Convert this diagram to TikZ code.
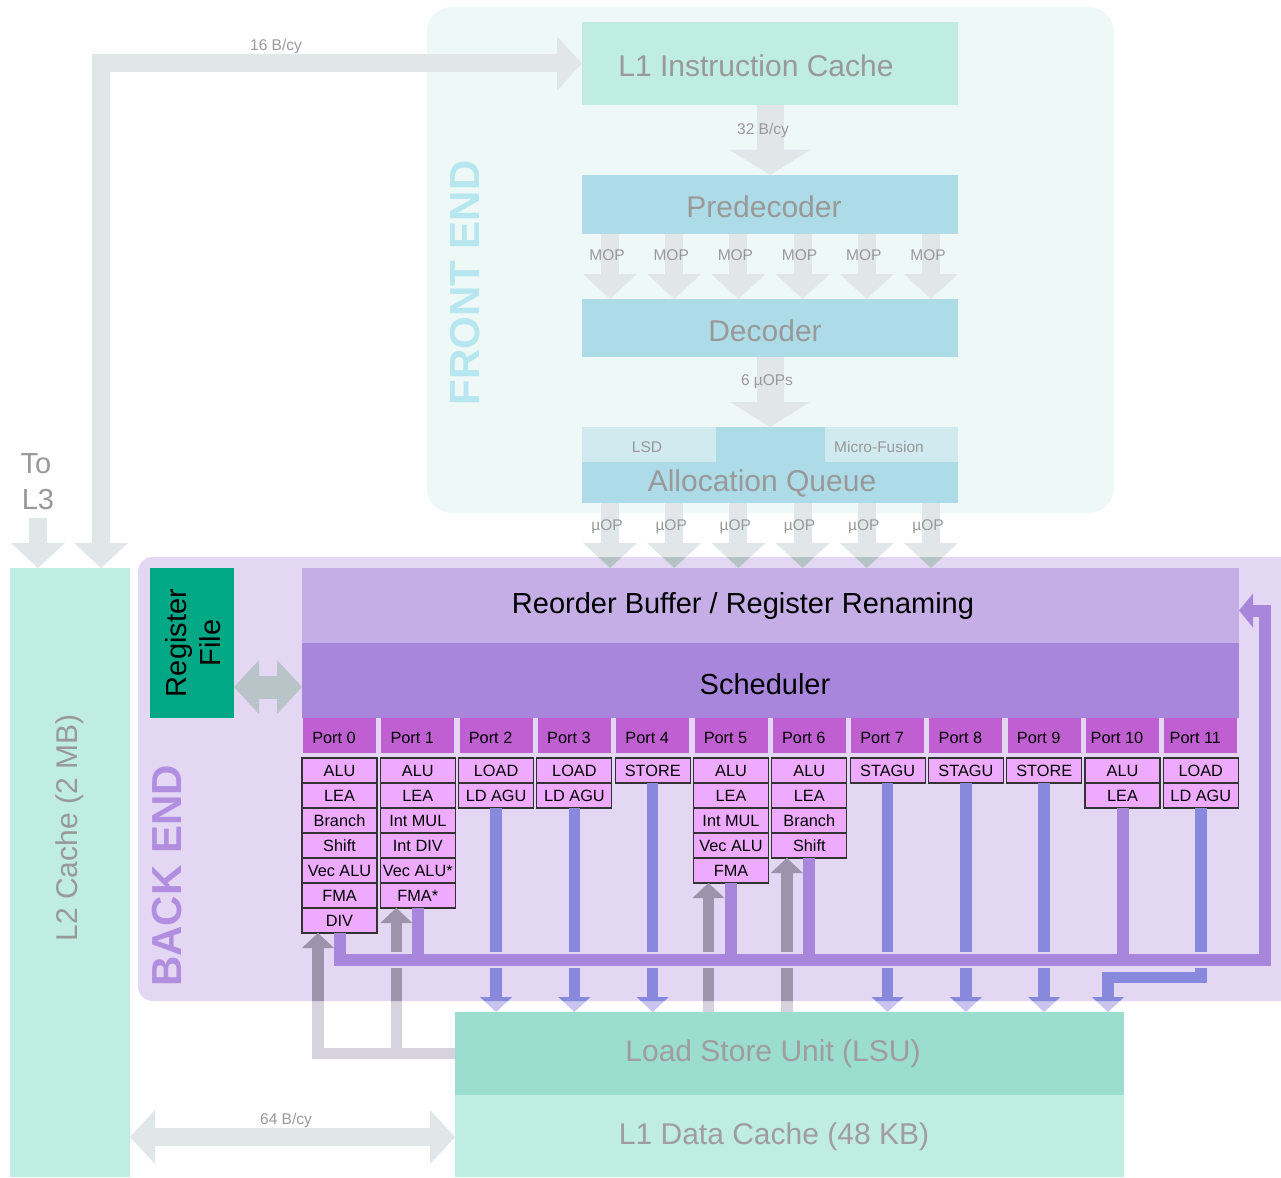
\documentclass[tikz,border=0pt]{standalone}
\usepackage{fontspec}
\setmainfont{Liberation Sans}
\usetikzlibrary{arrows.meta,calc}

\definecolor{feBg}{HTML}{EEF8F7}
\definecolor{beBg}{HTML}{E4D7F3}
\definecolor{mint}{HTML}{BFEDE2}
\definecolor{lsuC}{HTML}{9BDDCF}
\definecolor{blueBox}{HTML}{ADDCE8}
\definecolor{lightBlue}{HTML}{D0EAF0}
\definecolor{arrG}{HTML}{E1E6E8}
\definecolor{arrGin}{HTML}{B5C3C5}
\definecolor{feTxt}{HTML}{B6E6EF}
\definecolor{beTxt}{HTML}{B28EE0}
\definecolor{robC}{HTML}{C5AEE6}
\definecolor{schedC}{HTML}{A886DC}
\definecolor{portC}{HTML}{BF5FD1}
\definecolor{unitC}{HTML}{EEAAFF}
\definecolor{unitB}{HTML}{333333}
\definecolor{busC}{HTML}{A886DC}
\definecolor{blueLn}{HTML}{8888DD}
\definecolor{blueOut}{HTML}{C8C4EF}
\definecolor{grayIn}{HTML}{9D94AB}
\definecolor{grayOut}{HTML}{D7D3DE}
\definecolor{rfC}{HTML}{00A886}
\definecolor{rfArr}{HTML}{B8C4C8}
\definecolor{txtG}{HTML}{999999}
\definecolor{txtL}{HTML}{A09CA0}

\newcommand\fBig{\fontsize{30}{32}\selectfont}
\newcommand\fMid{\fontsize{29}{34}\selectfont}
\newcommand\fSm{\fontsize{15.5}{17}\selectfont}
\newcommand\fPort{\fontsize{16.3}{18}\selectfont}
\newcommand\fHuge{\fontsize{42}{44}\selectfont\bfseries}

\newcommand\myBlueLines[1]{%
  \foreach \k/\n in {2/2,3/2,4/1,7/1,8/1,9/1}{
    \draw[port arrow,draw=#1] (u\k-\n.south) -- (u\k-\n.south |- lsu.north);
  }
  \draw[port arrow,draw=#1] (u11-2.south) -- (u11-2.south |- p11h) -- (p11h) -- (p11h |- lsu.north);
}
\newcommand\myGrayArrows[1]{%
  \draw[port arrow,draw=#1] (lsu.west) -- (lsu.west -| g0) -- (g0);
  \draw[port arrow,draw=#1] (lsu.west -| g1) -- (g1);
  \draw[port arrow,draw=#1] (g5 |- lsu.north) -- (g5);
  \draw[port arrow,draw=#1] (g6 |- lsu.north) -- (g6);
}
\newcommand\myUopArrows[1]{%
  \foreach \i in {0,...,5}{\draw[mid arrow,draw=#1] (m\i |- aq.south) -- (m\i |- rob.north);}
}

\begin{document}
\begin{tikzpicture}[x=1pt,y=-1pt,line join=miter,
  blk/.style={inner sep=0pt,outer sep=0pt,anchor=north west,draw=none},
  lbl/.style={inner sep=0pt,outer sep=0pt,yshift=-2pt},
  rlbl/.style={inner sep=0pt,outer sep=0pt,rotate=90},
  unitbox/.style={blk,draw=unitB,line width=1.1pt,fill=unitC,minimum width=75pt,minimum height=25pt,font=\fPort},
  porthdr/.style={blk,fill=portC,minimum width=73pt,minimum height=35pt},
  wide arrow/.style={line width=27pt,-{Triangle[width=80pt,length=25pt,line width=0pt]}},
  mid arrow/.style={line width=18pt,-{Triangle[width=54pt,length=25pt,line width=0pt]}},
  dbl arrow/.style={line width=18pt,{Triangle[width=54pt,length=25pt,line width=0pt]}-{Triangle[width=54pt,length=25pt,line width=0pt]}},
  port arrow/.style={line width=11.5pt,-{Triangle[width=32pt,length=15pt,line width=0pt]}},
]
\useasboundingbox (0,0) rectangle (1281,1177);
\fill[white] (0,0) rectangle (1281,1177);

% regions
\node[blk,fill=feBg,rounded corners=25pt,minimum width=687pt,minimum height=506pt] (fe) at (427,7) {};
\node[blk,fill=beBg,rounded corners=15pt,minimum width=1157pt,minimum height=444pt] (be) at (138,557) {};

% front end blocks
\node[blk,fill=mint,minimum width=376pt,minimum height=83pt] (l1i) at (582,22) {};
\node[blk,fill=blueBox,minimum width=376pt,minimum height=59pt] (pre) at (582,175) {};
\node[blk,fill=blueBox,minimum width=376pt,minimum height=58pt] (dec) at (582,299) {};
\node[blk,fill=blueBox,minimum width=376pt,minimum height=76pt] (aq) at (582,427) {};
\node[blk,fill=lightBlue,minimum width=134pt,minimum height=35pt] (lsd) at (582,427) {};
\node[blk,fill=lightBlue,minimum width=133pt,minimum height=35pt] (mf) at (825,427) {};

% caches and back end blocks
\node[blk,fill=mint,minimum width=120pt,minimum height=609pt] (l2) at (10,568) {};
\node[blk,fill=rfC,minimum width=84pt,minimum height=150pt] (rf) at (150,568) {};
\node[blk,fill=robC,minimum width=937pt,minimum height=75pt] (rob) at (302,568) {};
\node[blk,fill=schedC,minimum width=937pt,minimum height=75pt] (sch) at (302,643) {};
\node[blk,fill=lsuC,minimum width=669pt,minimum height=83pt] (lsu) at (455,1012) {};
\node[blk,fill=mint,minimum width=669pt,minimum height=82pt] (l1d) at (455,1095) {};

% ports and units
\foreach \i/\us in {0/{ALU,LEA,Branch,Shift,Vec ALU,FMA,DIV},1/{ALU,LEA,Int MUL,Int DIV,Vec ALU*,FMA*},2/{LOAD,LD AGU},3/{LOAD,LD AGU},4/{STORE},5/{ALU,LEA,Int MUL,Vec ALU,FMA},6/{ALU,LEA,Branch,Shift},7/{STAGU},8/{STAGU},9/{STORE},10/{ALU,LEA},11/{LOAD,LD AGU}}{
  \node[porthdr] (p\i) at ({303+78.3*\i},718) {};
  \node[lbl,font=\fPort] (pt\i) at ({334+78.3*\i},736) {Port \i};
  \foreach \u [count=\j] in \us {
    \node[unitbox] (u\i-\j) at ({302+78.3*\i},{758+25*(\j-1)}) {\u};
  }
}

% coordinates
\foreach \i in {0,...,5}{\coordinate (m\i) at ({610+64.2*\i},0);}
\coordinate (c16) at (101,63.5);
\coordinate (l3s) at (38,518);
\coordinate (d64) at (0,1137);
\coordinate (rfy) at (0,687);
\coordinate (busy) at (0,960);
\coordinate (busR) at (1265,960);
\coordinate (robin) at (1265,610.5);
\coordinate (p11h) at (1108,977.5);
\coordinate (g0) at ([xshift=16pt]u0-7.south west);
\coordinate (g1) at ([xshift=16pt]u1-6.south west);
\coordinate (g5) at ([xshift=15pt]u5-5.south west);
\coordinate (g6) at ([xshift=15pt]u6-4.south west);
\coordinate (moprow) at (0,253);
\coordinate (uoprow) at (0,525);

% grey wide arrows
\draw[dbl arrow,draw=arrG] (c16 |- l2.north) -- (c16) -- (c16 -| l1i.west);
\draw[mid arrow,draw=arrG] (l3s) -- (l3s |- l2.north);
\draw[wide arrow,draw=arrG] (l1i.south) -- (pre.north);
\draw[wide arrow,draw=arrG] (dec.south) -- (aq.north);
\foreach \i in {0,...,5}{\draw[mid arrow,draw=arrG] (m\i |- pre.south) -- (m\i |- dec.north);}
\myUopArrows{arrG}
\begin{scope}
  \clip[rounded corners=15pt] (be.north west) rectangle (be.south east);
  \myUopArrows{arrGin}
\end{scope}
\draw[dbl arrow,draw=arrG] (l2.east |- d64) -- (l1d.west |- d64);
\draw[line width=23pt,draw=rfArr,{Triangle[width=54pt,length=25pt,line width=0pt]}-{Triangle[width=54pt,length=25pt,line width=0pt]}] (rf.east |- rfy) -- (sch.west |- rfy);

% port connections
\myBlueLines{blueOut}
\myGrayArrows{grayOut}
\begin{scope}
  \clip[rounded corners=15pt] (be.north west) rectangle (be.south east);
  \myBlueLines{blueLn}
  \myGrayArrows{grayIn}
\end{scope}
\draw[line width=16pt,draw=beBg] (u0-7.south |- busy) -- (busR);
\draw[line width=12pt,draw=busC,-{Triangle[width=34pt,length=14pt,line width=0pt]}] (u0-7.south) -- (u0-7.south |- busy) -- (busR) -- (robin) -- (robin -| rob.east);
\foreach \k/\n in {1/6,5/5,6/4,10/2}{\draw[line width=12pt,draw=busC] (u\k-\n.south) -- (u\k-\n.south |- busy);}

% texts
\node[lbl,text=txtG,font=\fBig] (l1it) at (756,64) {L1 Instruction Cache};
\node[lbl,text=txtG,font=\fBig] (pret) at (764,205) {Predecoder};
\node[lbl,text=txtG,font=\fBig] (dect) at (765,329) {Decoder};
\node[lbl,text=txtG,font=\fBig] (aqt) at (762,481) {Allocation Queue};
\node[lbl,text=txtG,font=\fSm] (lsdt) at (647,445) {LSD};
\node[lbl,text=txtG,font=\fSm] (mft) at (879,445) {Micro-Fusion};
\node[rlbl,text=feTxt,font=\fHuge] (fet) at (465,283) {FRONT END};
\node[rlbl,text=beTxt,font=\fHuge] (bet) at (167,876) {BACK END};
\node[rlbl,text=txtG,font=\fBig] (l2t) at (70,828) {L2 Cache (2 MB)};
\node[rlbl,font=\fMid,align=center] (rft) at (193,643) {Register\\File};
\node[lbl,font=\fMid] (robt) at (743,604) {Reorder Buffer / Register Renaming};
\node[lbl,font=\fMid] (scht) at (765,682) {Scheduler};
\node[lbl,text=txtL,font=\fBig] (lsut) at (773,1052) {Load Store Unit (LSU)};
\node[lbl,text=txtL,font=\fBig] (l1dt) at (774,1135) {L1 Data Cache (48 KB)};
\node[lbl,text=txtG,font=\fSm] (t16) at (276,44) {16 B/cy};
\node[lbl,text=txtG,font=\fSm] (t32) at (763,128) {32 B/cy};
\node[lbl,text=txtG,font=\fSm] (t6) at (767,380) {6 µOPs};
\node[lbl,text=txtG,font=\fSm] (t64) at (286,1118) {64 B/cy};
\node[lbl,text=txtG,font=\fMid] (tto) at (36,462) {To};
\node[lbl,text=txtG,font=\fMid] (tl3) at (38,498) {L3};
\foreach \i in {0,...,5}{
  \node[lbl,text=txtG,font=\fSm,xshift=-3pt] (mopt\i) at (m\i |- moprow) {MOP};
  \node[lbl,text=txtG,font=\fSm,xshift=-3pt] (uopt\i) at (m\i |- uoprow) {µOP};
}
\end{tikzpicture}
\end{document}
